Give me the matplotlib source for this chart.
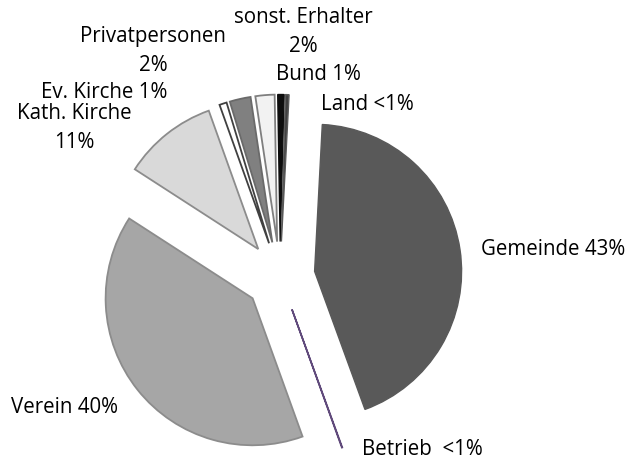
import matplotlib
matplotlib.use("Agg")
import matplotlib.pyplot as plt

# Anteil der Erhalter (in %), im Uhrzeigersinn ab 12 Uhr
labels = ["Gemeinde 43%", "Betrieb  <1%", "Verein 40%", "Kath. Kirche\n11%",
          "Ev. Kirche 1%", "Privatpersonen\n2%", "sonst. Erhalter\n2%",
          "Bund 1%", "Land <1%"]
values = [43.6, 0.05, 39.65, 10.4, 0.8, 2.3, 2.1, 0.7, 0.4]

colors = ["#595959", "#60497a", "#a6a6a6", "#d9d9d9", "#ffffff",
          "#808080", "#f2f2f2", "#0d0d0d", "#404040"]
edges = ["#595959", "#604a7b", "#8c8c8c", "#8c8c8c", "#404040",
         "#6a6a6a", "#7f7f7f", "#0d0d0d", "#595959"]
edge_w = [1.0, 1.2, 1.3, 1.3, 1.3, 1.3, 1.3, 1.0, 1.0]

# label positions in pixels (x, y from top)
label_pos = [(553, 250), (422, 450), (64, 408), (74, 128), (104, 92),
             (153, 51), (303, 32), (318, 75), (367, 105)]

W, H = 628, 460
cx, cy, R = 280, 277.5, 147.0

fig = plt.figure(figsize=(W / 100, H / 100), dpi=100)
ax = fig.add_axes([0, 0, 1, 1])

wedges, _ = ax.pie(values, colors=colors, startangle=87, counterclock=False,
                   explode=[0.238] * len(values), radius=1.0, frame=True)
for w, ec, lw in zip(wedges, edges, edge_w):
    w.set_edgecolor(ec)
    w.set_linewidth(lw)
ax.set_xlim(-cx / R, (W - cx) / R)
ax.set_ylim(-(H - cy) / R, cy / R)
ax.set_aspect("auto")
ax.axis("off")

for lab, (px, py) in zip(labels, label_pos):
    ax.text((px - cx) / R, (cy - py) / R, lab, ha="center", va="center",
            fontsize=14.8, family=["Open Sans", "DejaVu Sans"],
            linespacing=1.5, color="#000000")

fig.savefig("out.png", dpi=100)
